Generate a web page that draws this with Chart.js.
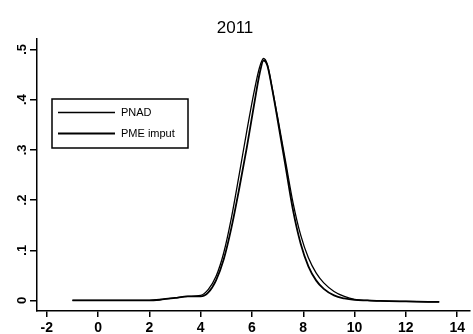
<!DOCTYPE html>
<html>
<head>
<meta charset="utf-8">
<script src="https://cdn.jsdelivr.net/npm/chart.js@4/dist/chart.umd.min.js"></script>
<style>
  html, body { margin: 0; padding: 0; background: #fff; }
  #wrap { width: 473px; height: 334px; }
</style>
</head>
<body>
<div id="wrap"><canvas id="kde"></canvas></div>
<script>
// log income density, 2011
var xs   = [-1, 0, 1, 2, 2.5, 3, 3.5, 4, 4.3, 4.6, 4.9, 5.2, 5.5, 5.8, 6.1, 6.3, 6.45, 6.6, 6.8, 7.0, 7.3, 7.6, 7.9, 8.2, 8.5, 8.8, 9.2, 9.6, 10, 10.5, 11, 12, 13.3];
var pnad = [0, 0, 0, 0, 0.002, 0.005, 0.008, 0.01, 0.022, 0.048, 0.095, 0.165, 0.25, 0.338, 0.42, 0.465, 0.482, 0.47, 0.42, 0.365, 0.28, 0.195, 0.13, 0.085, 0.055, 0.035, 0.018, 0.008, 0.002, 0, -0.001, -0.002, -0.003];
var pme  = [0, 0, 0, 0, 0.002, 0.005, 0.008, 0.008, 0.016, 0.04, 0.082, 0.145, 0.222, 0.305, 0.395, 0.452, 0.478, 0.468, 0.418, 0.36, 0.27, 0.18, 0.113, 0.068, 0.04, 0.023, 0.01, 0.004, 0.001, 0, -0.001, -0.002, -0.003];
var xTicks = [-2, 0, 2, 4, 6, 8, 10, 12, 14];
var yTicks = [0, 0.1, 0.2, 0.3, 0.4, 0.5];
var yLabels = ['0', '.1', '.2', '.3', '.4', '.5'];

var font = '"Liberation Sans", Arial, sans-serif';

// Stata style legend box inside the plot
var boxLegend = {
    id: 'boxLegend',
    afterDraw: function(chart) {
        var ctx = chart.ctx;
        ctx.save();
        ctx.strokeStyle = '#000';
        ctx.lineWidth = 1.5;
        ctx.strokeRect(52, 99, 136, 49);
        ctx.font = '11px ' + font;
        ctx.fillStyle = '#000';
        ctx.textBaseline = 'middle';
        chart.data.datasets.forEach(function(ds, i) {
            var y = 112.5 + i * 21;
            ctx.lineWidth = ds.borderWidth;
            ctx.beginPath();
            ctx.moveTo(58, y);
            ctx.lineTo(115, y);
            ctx.stroke();
            ctx.fillText(ds.label, 121, y);
        });
        ctx.restore();
    }
};

// vertical y tick labels
var yLabelPlugin = {
    id: 'yLabelPlugin',
    afterDraw: function(chart) {
        var ctx = chart.ctx, sc = chart.scales.y;
        ctx.save();
        ctx.font = 'bold 13px ' + font;
        ctx.fillStyle = '#000';
        ctx.textAlign = 'center';
        ctx.textBaseline = 'middle';
        yTicks.forEach(function(v, i) {
            ctx.save();
            ctx.translate(22, sc.getPixelForValue(v));
            ctx.rotate(-Math.PI / 2);
            ctx.fillText(yLabels[i], 0, 0);
            ctx.restore();
        });
        ctx.restore();
    }
};

new Chart(document.getElementById('kde'), {
    type: 'line',
    data: {
        datasets: [{
            label: 'PNAD',
            data: xs.map(function(x, i) { return {x: x, y: pnad[i]}; }),
            borderColor: '#000',
            borderWidth: 1.3,
            pointRadius: 0,
            cubicInterpolationMode: 'monotone'
        }, {
            label: 'PME imput',
            data: xs.map(function(x, i) { return {x: x, y: pme[i]}; }),
            borderColor: '#000',
            borderWidth: 1.8,
            pointRadius: 0,
            cubicInterpolationMode: 'monotone'
        }]
    },
    options: {
        responsive: true,
        maintainAspectRatio: false,
        animation: { duration: 0 },
        layout: { padding: { right: 3, left: 0, bottom: 0, top: 0 } },
        plugins: {
            legend: { display: false },
            tooltip: { enabled: false },
            title: {
                display: true,
                text: '2011',
                color: '#000',
                font: { family: font, size: 17, weight: 'normal' },
                padding: { top: 18, bottom: 0 }
            }
        },
        scales: {
            x: {
                type: 'linear',
                min: -2.38,
                max: 14.5,
                afterBuildTicks: function(s) { s.ticks = xTicks.map(function(v) { return {value: v}; }); },
                afterFit: function(s) { s.height = 23; },
                grid: { display: true, drawOnChartArea: false, drawTicks: true, tickLength: 6, color: '#000', lineWidth: 1.5 },
                border: { display: true, color: '#000', width: 1.5 },
                ticks: { color: '#000', padding: 3, maxRotation: 0, font: { family: font, size: 14, weight: 'bold' } }
            },
            y: {
                min: -0.021,
                max: 0.522,
                afterBuildTicks: function(s) { s.ticks = yTicks.map(function(v) { return {value: v}; }); },
                afterFit: function(s) { s.width = 37; },
                grid: { display: true, drawOnChartArea: false, drawTicks: true, tickLength: 7, color: '#000', lineWidth: 1.5 },
                border: { display: true, color: '#000', width: 1.5 },
                ticks: { display: false }
            }
        }
    },
    plugins: [boxLegend, yLabelPlugin]
});
</script>
</body>
</html>
